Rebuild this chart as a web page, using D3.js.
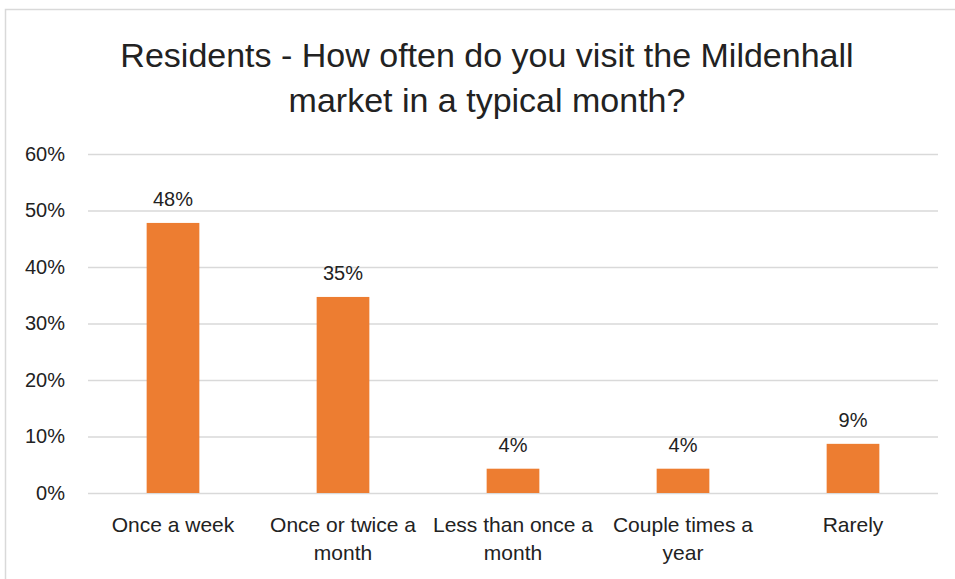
<!DOCTYPE html>
<html>
<head>
<meta charset="utf-8">
<script src="https://cdn.jsdelivr.net/npm/d3@7"></script>
<style>
  html, body { margin: 0; padding: 0; background: #fff; }
  svg { display: block; }
  text { font-family: "Liberation Sans", Arial, sans-serif; fill: #222; }
</style>
</head>
<body>
<svg id="chart" width="955" height="579"></svg>
<script>
// Survey answers and shares of residents
const categories = ["Once a week", "Once or twice a month", "Less than once a month", "Couple times a year", "Rarely"];
const categoryLines = [["Once a week"], ["Once or twice a", "month"], ["Less than once a", "month"], ["Couple times a", "year"], ["Rarely"]];
const shares = [0.478, 0.347, 0.043, 0.043, 0.087];
const yTicks = [0, 0.1, 0.2, 0.3, 0.4, 0.5, 0.6];
const titleLines = ["Residents - How often do you visit the Mildenhall", "market in a typical month?"];

const W = 955, H = 579;
const margin = { left: 88, right: 17, top: 154, bottom: 86 };
const svg = d3.select("#chart");

// chart frame
svg.append("rect")
  .attr("x", 5.5).attr("y", 9.5)
  .attr("width", W + 20).attr("height", H + 20)
  .attr("fill", "none").attr("stroke", "#d9d9d9").attr("stroke-width", 1.5);

const x = d3.scaleBand().domain(categories)
  .range([margin.left, W - margin.right]).paddingInner(0.69).paddingOuter(0.345);
const y = d3.scaleLinear().domain([0, 0.6]).range([H - margin.bottom, margin.top]);

// title
svg.append("text")
  .attr("text-anchor", "middle")
  .attr("font-size", 34)
  .selectAll("tspan").data(titleLines).join("tspan")
  .attr("x", 487).attr("y", (d, i) => 67 + i * 45)
  .text(d => d);

// gridlines and percentage ticks
const yAxis = d3.axisLeft(y).tickValues(yTicks).tickFormat(d3.format(".0%"))
  .tickSize(-(W - margin.left - margin.right)).tickPadding(23);
const gy = svg.append("g").attr("transform", `translate(${margin.left},0)`).call(yAxis);
gy.select(".domain").remove();
gy.selectAll(".tick line").attr("stroke", "#d9d9d9").attr("stroke-width", 1.5);
gy.selectAll(".tick text").attr("font-size", 20).attr("fill", "#222")
  .style("font-family", "'Liberation Sans', sans-serif");

// bars
svg.append("g").selectAll("rect").data(shares).join("rect")
  .attr("x", (d, i) => x(categories[i]))
  .attr("y", d => y(d))
  .attr("width", x.bandwidth())
  .attr("height", d => y(0) - y(d))
  .attr("fill", "#ED7D31");

// value labels
svg.append("g").selectAll("text").data(shares).join("text")
  .attr("x", (d, i) => x(categories[i]) + x.bandwidth() / 2)
  .attr("y", d => y(d) - 17)
  .attr("text-anchor", "middle")
  .attr("font-size", 20)
  .text(d => d3.format(".0%")(d));

// category labels
const xAxis = svg.append("g");
categoryLines.forEach((lines, i) => {
  const t = xAxis.append("text")
    .attr("text-anchor", "middle")
    .attr("font-size", 21);
  lines.forEach((ln, j) => {
    t.append("tspan")
      .attr("x", x(categories[i]) + x.bandwidth() / 2)
      .attr("y", 532 + j * 28)
      .text(ln);
  });
});
</script>
</body>
</html>
